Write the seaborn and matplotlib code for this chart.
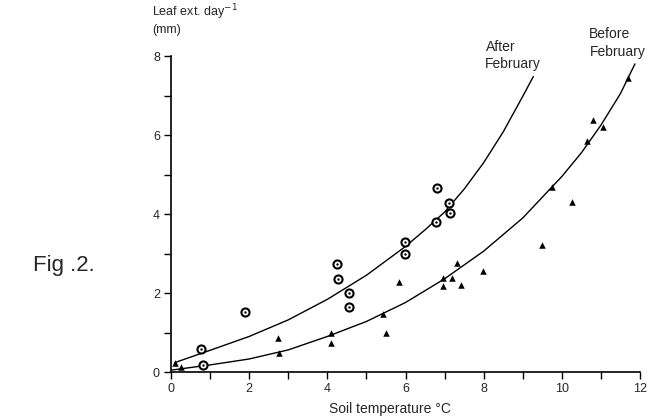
import seaborn as sns
import matplotlib.pyplot as plt
import pandas as pd

# measured points, After February (circles)
after_x = [0.77, 0.83, 1.89, 4.25, 4.28, 4.56, 4.56, 5.98, 5.98, 6.78, 6.80, 7.12, 7.14]
after_y = [0.58, 0.18, 1.53, 2.73, 2.35, 1.99, 1.65, 3.30, 3.00, 3.81, 4.65, 4.27, 4.02]

# measured points, Before February (triangles)
before_x = [0.10, 0.26, 2.74, 2.77, 4.09, 4.09, 5.43, 5.50, 5.83, 6.97, 6.97, 7.18, 7.31,
            7.41, 7.97, 9.50, 9.76, 10.25, 10.65, 10.80, 11.06, 11.70]
before_y = [0.24, 0.12, 0.85, 0.47, 0.98, 0.74, 1.47, 0.99, 2.29, 2.37, 2.18, 2.37, 2.75,
            2.20, 2.57, 3.22, 4.68, 4.31, 5.86, 6.38, 6.21, 7.44]

# fitted curves
after_fit_x = [0.10, 1.0, 2.0, 3.0, 4.0, 5.0, 6.0, 6.5, 7.0, 7.5, 8.0, 8.5, 9.0, 9.27]
after_fit_y = [0.24, 0.55, 0.90, 1.32, 1.84, 2.45, 3.18, 3.60, 4.05, 4.63, 5.30, 6.08, 6.98, 7.48]
before_fit_x = [0.02, 1.0, 2.0, 3.0, 4.0, 5.0, 6.0, 7.0, 8.0, 9.0, 10.0, 10.5, 11.0, 11.5, 11.87]
before_fit_y = [0.05, 0.18, 0.33, 0.56, 0.90, 1.28, 1.76, 2.36, 3.06, 3.90, 4.95, 5.55, 6.25, 7.05, 7.80]

x_ticks = [0, 2, 4, 6, 8, 10, 12]
y_ticks = [0, 2, 4, 6, 8]

sns.set_style("ticks")
plt.rcParams['font.family'] = ['Liberation Sans', 'DejaVu Sans']

fig = plt.figure(figsize=(6.59, 4.18), dpi=100)
ax = fig.add_axes([0.2595, 0.110, 0.7117, 0.756])

af = pd.DataFrame({'x': after_fit_x, 'y': after_fit_y})
bf = pd.DataFrame({'x': before_fit_x, 'y': before_fit_y})
sns.lineplot(data=af, x='x', y='y', ax=ax, color='black', lw=1.0, sort=False, estimator=None)
sns.lineplot(data=bf, x='x', y='y', ax=ax, color='black', lw=1.0, sort=False, estimator=None)

ad = pd.DataFrame({'x': after_x, 'y': after_y})
bd = pd.DataFrame({'x': before_x, 'y': before_y})
sns.scatterplot(data=ad, x='x', y='y', ax=ax, marker='o', s=34, facecolor='white',
                edgecolor='black', linewidth=1.5, zorder=3, clip_on=False)
sns.scatterplot(data=ad, x='x', y='y', ax=ax, marker='o', s=3, color='black',
                linewidth=0, zorder=4, clip_on=False)
sns.scatterplot(data=bd, x='x', y='y', ax=ax, marker='^', s=22, color='black',
                linewidth=0, zorder=3, clip_on=False)

ax.set_xlim(0, 12)
ax.set_ylim(0, 8)
ax.set_xticks(x_ticks)
ax.set_yticks(y_ticks)
ax.set_xticks(range(1, 12, 2), minor=True)
ax.set_yticks(range(1, 8, 2), minor=True)
ax.tick_params(which='both', length=5, width=1, color='black', labelsize=9, pad=3)
sns.despine(ax=ax)
for s in ['left', 'bottom']:
    ax.spines[s].set_color('black')
    ax.spines[s].set_linewidth(1.2)

ax.set_ylabel('')
ax.set_xlabel('Soil temperature °C', fontsize=10)
ax.xaxis.set_label_coords(0.467, -0.095)

ax.text(8.06, 8.23, 'After', fontsize=10, ha='left', va='center', clip_on=False)
ax.text(8.02, 7.80, 'February', fontsize=10, ha='left', va='center', clip_on=False)
ax.text(10.68, 8.55, 'Before', fontsize=10, ha='left', va='center', clip_on=False)
ax.text(10.72, 8.10, 'February', fontsize=10, ha='left', va='center', clip_on=False)

fig.text(152 / 659, 1 - 12 / 418, 'Leaf ext. day$^{-1}$', fontsize=9, ha='left', va='center')
fig.text(152 / 659, 1 - 30 / 418, '(mm)', fontsize=9, ha='left', va='center')
fig.text(33 / 659, 1 - 265 / 418, 'Fig .2.', fontsize=16, ha='left', va='center')

fig.savefig('out.png', dpi=100)
